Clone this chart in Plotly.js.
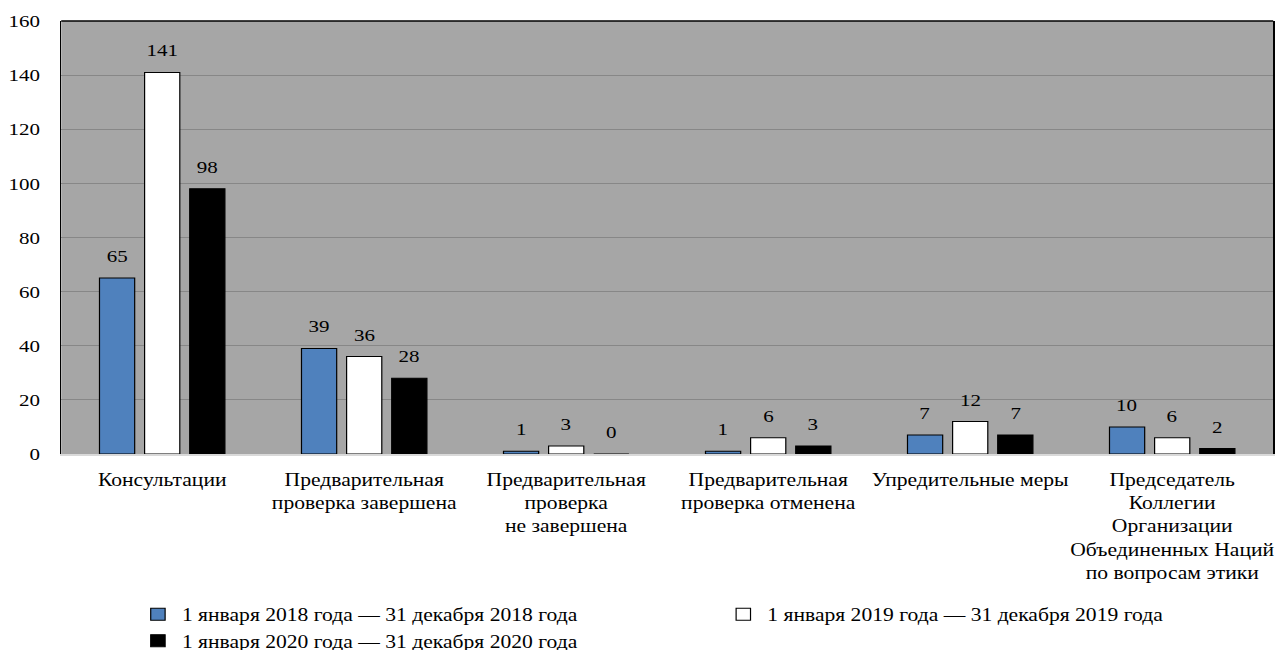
<!DOCTYPE html>
<html>
<head>
<meta charset="utf-8">
<script src="https://cdn.plot.ly/plotly-3.0.1.min.js"></script>
<style>
html,body{margin:0;padding:0;background:#fff;overflow:hidden;}
#wrap{width:1276px;height:650px;overflow:hidden;}
#chart{width:1064px;height:650px;transform:scaleX(1.2);transform-origin:0 0;}
</style>
</head>
<body>
<div id="wrap"><div id="chart"></div></div>
<script>
const categories = [
  "Консультации",
  "Предварительная<br>проверка завершена",
  "Предварительная<br>проверка<br>не завершена",
  "Предварительная<br>проверка отменена",
  "Упредительные меры",
  "Председатель<br>Коллегии<br>Организации<br>Объединенных Наций<br>по вопросам этики"
];
const seriesNames = [
  "1 января 2018 года — 31 декабря 2018 года",
  "1 января 2019 года — 31 декабря 2019 года",
  "1 января 2020 года — 31 декабря 2020 года"
];
const values2018 = [65, 39, 1, 1, 7, 10];
const values2019 = [141, 36, 3, 6, 12, 6];
const values2020 = [98, 28, 0, 3, 7, 2];
const yTicks = [0, 20, 40, 60, 80, 100, 120, 140, 160];

const colors = ["#4f81bd", "#ffffff", "#000000"];
const legendIds = ["legend", "legend2", "legend"];
const allValues = [values2018, values2019, values2020];
const fontFamily = "Liberation Serif";

// the reference chart is horizontally stretched; draw at 1/1.2 width and stretch with CSS
const W = 1064, H = 650;
const margin = {l: 51, r: 2.5, t: 21, b: 196};
const bargap = 0.33;
const plotW = W - margin.l - margin.r;
const catW = plotW / categories.length;
const slotW = catW * (1 - bargap) / allValues.length;

const traces = allValues.map((vals, i) => ({
  type: "bar",
  name: seriesNames[i],
  x: categories,
  y: vals,
  legend: legendIds[i],
  marker: {color: colors[i], line: {color: "#000", width: 1}},
  hoverinfo: "none"
}));

const annotations = [];
allValues.forEach((vals, s) => {
  vals.forEach((v, c) => {
    annotations.push({
      x: c, y: v, xref: "x", yref: "y",
      text: String(v),
      showarrow: false,
      xanchor: "center", yanchor: "bottom",
      xshift: (s - (allValues.length - 1) / 2) * slotW,
      yshift: 10,
      font: {family: fontFamily, size: 17.5, color: "#000"}
    });
  });
});

const legendBase = {
  orientation: "v",
  xanchor: "left",
  yref: "container",
  y: 0.083, yanchor: "top",
  bgcolor: "rgba(0,0,0,0)",
  font: {family: fontFamily, size: 18, color: "#000"},
  itemwidth: 30,
  traceorder: "normal"
};

const layout = {
  width: W,
  height: H,
  margin: margin,
  paper_bgcolor: "#ffffff",
  plot_bgcolor: "#a6a6a6",
  barmode: "group",
  bargap: bargap,
  bargroupgap: 0.22,
  font: {family: fontFamily, size: 18, color: "#000"},
  showlegend: true,
  legend: Object.assign({}, legendBase, {x: 0.060}),
  legend2: Object.assign({}, legendBase, {x: 0.543}),
  xaxis: {
    type: "category",
    showgrid: false,
    showline: true,
    linecolor: "#d9d9d9",
    linewidth: 2,
    ticks: "",
    tickangle: 0,
    ticklabelstandoff: 8,
    tickfont: {family: fontFamily, size: 18, color: "#000"},
    fixedrange: true
  },
  yaxis: {
    range: [0, 160],
    tickvals: yTicks,
    ticktext: yTicks.map(String),
    showgrid: true,
    gridcolor: "#878787",
    gridwidth: 1,
    zeroline: false,
    showline: true,
    mirror: true,
    linecolor: "#000",
    linewidth: 1.25,
    ticks: "",
    ticklabelstandoff: 13,
    tickfont: {family: fontFamily, size: 17.5, color: "#000"},
    fixedrange: true
  },
  annotations: annotations,
  shapes: [{
    type: "line", xref: "paper", yref: "paper",
    x0: 0, x1: 1, y0: 1, y1: 1,
    line: {color: "#000", width: 1.5}
  }]
};

Plotly.newPlot("chart", traces, layout, {displayModeBar: false, staticPlot: true});
</script>
</body>
</html>
